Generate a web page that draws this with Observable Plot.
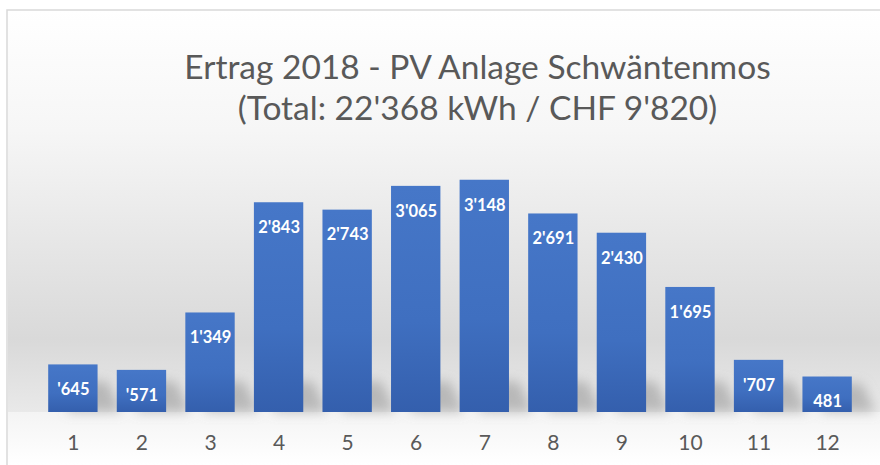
<!DOCTYPE html>
<html>
<head>
<meta charset="utf-8">
<script src="https://cdn.jsdelivr.net/npm/d3@7"></script>
<script src="https://cdn.jsdelivr.net/npm/@observablehq/plot@0.6"></script>
<style>
  html, body { margin: 0; padding: 0; background: #ffffff; }
  #chart { width: 880px; height: 465px; overflow: hidden; }
</style>
</head>
<body>
<div id="chart"></div>
<script>
const months = [1, 2, 3, 4, 5, 6, 7, 8, 9, 10, 11, 12];
const values = [645, 571, 1349, 2843, 2743, 3065, 3148, 2691, 2430, 1695, 707, 481];
const valueLabels = ["'645", "'571", "1'349", "2'843", "2'743", "3'065", "3'148", "2'691", "2'430", "1'695", "'707", "481"];
const titleLines = ["Ertrag 2018 - PV Anlage Schwäntenmos", "(Total: 22'368 kWh / CHF 9'820)"];

const data = months.map((m, i) => ({month: m, value: values[i], label: valueLabels[i]}));

const W = 880, H = 465;

function background(index, scales, vals, dims) {
  const g = d3.create("svg:g");
  const defs = g.append("defs");
  const wall = defs.append("linearGradient").attr("id", "wallGrad")
    .attr("x1", 0).attr("y1", 0).attr("x2", 0).attr("y2", 1);
  [[0, "#ffffff"], [0.3, "#f6f6f6"], [0.82, "#d9d9d9"], [1, "#e9e9e9"]]
    .forEach(([o, c]) => wall.append("stop").attr("offset", o).attr("stop-color", c));
  const floor = defs.append("linearGradient").attr("id", "floorGrad")
    .attr("x1", 0).attr("y1", 0).attr("x2", 0).attr("y2", 1);
  [[0, "#f4f4f4"], [1, "#ffffff"]]
    .forEach(([o, c]) => floor.append("stop").attr("offset", o).attr("stop-color", c));
  const bar = defs.append("linearGradient").attr("id", "barGrad")
    .attr("x1", 0).attr("y1", 0).attr("x2", 0).attr("y2", 1);
  [[0, "#4677c8"], [0.6, "#3f6fc0"], [1, "#345fad"]]
    .forEach(([o, c]) => bar.append("stop").attr("offset", o).attr("stop-color", c));
  const blur = defs.append("filter").attr("id", "shadowBlur")
    .attr("x", "-50%").attr("y", "-50%").attr("width", "200%").attr("height", "200%");
  blur.append("feGaussianBlur").attr("stdDeviation", 6);

  const base = dims.height - dims.marginBottom;
  g.append("rect").attr("x", 8).attr("y", 10).attr("width", dims.width - 8).attr("height", base - 10)
    .attr("fill", "url(#wallGrad)");
  g.append("rect").attr("x", 8).attr("y", base).attr("width", dims.width - 8).attr("height", dims.height - base)
    .attr("fill", "url(#floorGrad)");
  g.append("path").attr("d", `M7,${dims.height}V10H${dims.width}`)
    .attr("fill", "none").attr("stroke", "#d9d9d9").attr("stroke-width", 1.5);
  return g.node();
}

function shadows(index, scales, vals, dims) {
  const g = d3.create("svg:g").attr("filter", "url(#shadowBlur)");
  const bw = scales.x.bandwidth();
  const y0 = scales.y(0);
  data.forEach(d => {
    const x0 = scales.x(d.month);
    const h = Math.min(y0 - scales.y(d.value), 38);
    g.append("path")
      .attr("d", `M${x0 + bw * 0.4},${y0} L${x0 + bw + 24},${y0} L${x0 + bw + 10},${y0 - h * 0.8} L${x0 + bw * 0.4},${y0 - h * 0.8}Z`)
      .attr("fill", "#8c8c8c").attr("fill-opacity", 0.5);
  });
  return g.node();
}

const chart = Plot.plot({
  width: W,
  height: H,
  marginLeft: 29,
  marginRight: 9,
  marginTop: 80,
  marginBottom: 53,
  style: {background: "transparent", overflow: "visible"},
  x: {type: "band", domain: months, padding: 0.28, round: false, label: null, tickSize: 0, tickPadding: 23},
  y: {domain: [0, 4500], axis: null},
  marks: [
    background,
    shadows,
    Plot.barY(data, {x: "month", y: "value", fill: "url(#barGrad)"}),
    Plot.text(data, {x: "month", y: "value", text: "label", dy: 25, fill: "white",
      fontSize: 16.5, fontWeight: "bold", fontFamily: "Lato"}),
    Plot.axisX({tickSize: 0, tickPadding: 23, fontSize: 21, fontFamily: "Lato", fill: "#595959", label: null}),
    Plot.text([titleLines[0]], {frameAnchor: "top", lineAnchor: "middle", dx: 27, dy: -12.7, text: d => d,
      fontSize: 33.5, fontFamily: "Lato", fill: "#595959"}),
    Plot.text([titleLines[1]], {frameAnchor: "top", lineAnchor: "middle", dx: 27, dy: 28.8, text: d => d,
      fontSize: 33.5, fontFamily: "Lato", fill: "#595959"})
  ]
});

document.getElementById("chart").appendChild(chart);
</script>
</body>
</html>
